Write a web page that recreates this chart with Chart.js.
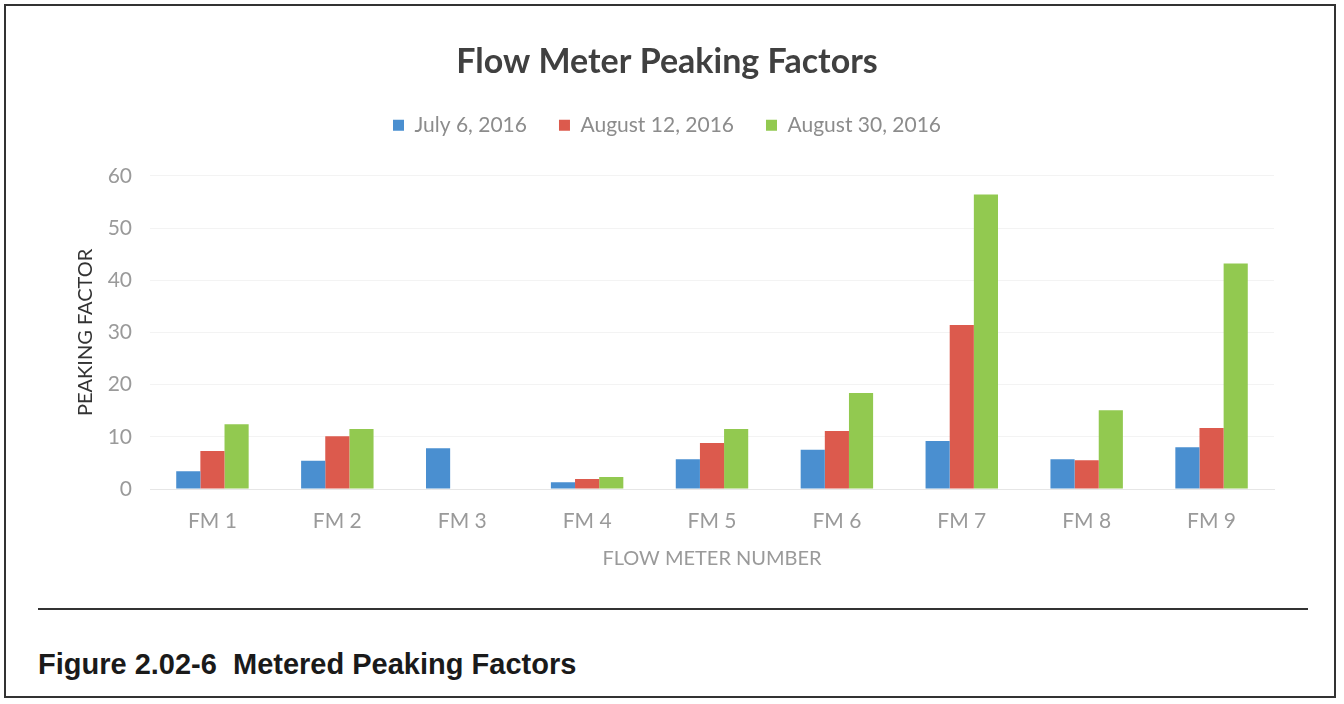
<!DOCTYPE html>
<html>
<head>
<meta charset="utf-8">
<script src="https://cdn.jsdelivr.net/npm/chart.js@4"></script>
<style>
  html, body { margin: 0; padding: 0; background: #fff; }
  body { width: 1344px; height: 704px; position: relative; overflow: hidden; }
  #frame { position: absolute; left: 4px; top: 4px; width: 1332px; height: 694px; border: 2px solid #333; box-sizing: border-box; }
  #wrap { position: absolute; left: 0; top: 0; width: 1344px; height: 600px; }
  #rule { position: absolute; left: 38px; top: 608px; width: 1270px; height: 0; border-top: 2px solid #333; }
  #caption { position: absolute; left: 38px; top: 648px; font: bold 29px "Liberation Sans", Arial, sans-serif; color: #1a1a1a; white-space: pre; }
</style>
</head>
<body>
<div id="frame"></div>
<div id="wrap"><canvas id="peakChart"></canvas></div>
<div id="rule"></div>
<div id="caption">Figure 2.02-6  Metered Peaking Factors</div>
<script>
const meters = ['FM 1', 'FM 2', 'FM 3', 'FM 4', 'FM 5', 'FM 6', 'FM 7', 'FM 8', 'FM 9'];
const july6 = [3.4, 5.4, 7.8, 1.3, 5.7, 7.5, 9.2, 5.7, 8.0];
const aug12 = [7.3, 10.1, null, 1.9, 8.8, 11.1, 31.4, 5.5, 11.7];
const aug30 = [12.4, 11.5, null, 2.3, 11.5, 18.4, 56.4, 15.1, 43.2];

const font = 'Lato, "Open Sans", sans-serif';

// push the plot down a bit below the legend
const legendGap = {
    id: 'legendGap',
    beforeInit(chart) {
        const fit = chart.legend.fit;
        chart.legend.fit = function () {
            fit.bind(chart.legend)();
            this.height += 30;
        };
    }
};

new Chart(document.getElementById('peakChart'), {
    type: 'bar',
    data: {
        labels: meters,
        datasets: [
            { label: 'July 6, 2016', data: july6, backgroundColor: '#4a8fd0' },
            { label: 'August 12, 2016', data: aug12, backgroundColor: '#dc5a4d' },
            { label: 'August 30, 2016', data: aug30, backgroundColor: '#92c950' }
        ]
    },
    plugins: [legendGap],
    options: {
        responsive: true,
        maintainAspectRatio: false,
        animation: false,
        datasets: { bar: { categoryPercentage: 0.58, barPercentage: 1.0 } },
        layout: { padding: { top: 25, left: 60, right: 70, bottom: 25 } },
        plugins: {
            title: {
                display: true,
                text: 'Flow Meter Peaking Factors',
                color: '#404040',
                font: { family: font, size: 34, weight: 'bold' },
                padding: { top: 17, bottom: 0 }
            },
            legend: {
                labels: {
                    color: '#8c8c8c',
                    font: { family: font, size: 21 },
                    boxWidth: 11,
                    boxHeight: 11,
                    padding: 32
                }
            },
            tooltip: { enabled: false }
        },
        scales: {
            x: {
                grid: { display: false, drawTicks: false },
                border: { color: '#e6e6e6' },
                ticks: { color: '#9a9a9a', font: { family: font, size: 21 }, padding: 20 },
                title: {
                    display: true,
                    text: 'FLOW METER NUMBER',
                    color: '#9a9a9a',
                    font: { family: font, size: 20 },
                    padding: { top: 0, bottom: 4 }
                },
                afterFit(scale) { scale.height = 86; }
            },
            y: {
                min: 0,
                max: 60,
                ticks: { stepSize: 10, color: '#9a9a9a', font: { family: font, size: 21 }, padding: 18 },
                grid: { color: '#f3f3f3', drawTicks: false },
                border: { display: false },
                title: {
                    display: true,
                    text: 'PEAKING FACTOR',
                    color: '#333333',
                    font: { family: font, size: 20 },
                    padding: { top: 14, bottom: 0 }
                },
                afterFit(scale) { scale.width = 90; }
            }
        }
    }
});
</script>
</body>
</html>
